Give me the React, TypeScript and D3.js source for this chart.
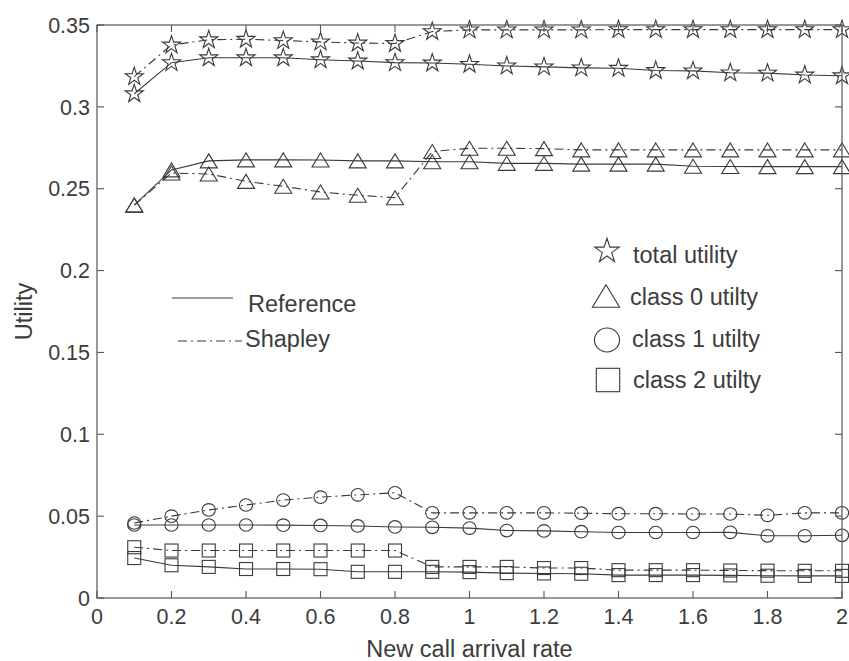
import React from "react";
import * as d3 from "d3";

const xValues = [0.1, 0.2, 0.3, 0.4, 0.5, 0.6, 0.7, 0.8, 0.9, 1.0, 1.1, 1.2, 1.3, 1.4, 1.5, 1.6, 1.7, 1.8, 1.9, 2.0];

const totalRef = [0.308, 0.327, 0.330, 0.330, 0.330, 0.3288, 0.328, 0.327, 0.3268, 0.326, 0.325, 0.3244, 0.3238, 0.3236, 0.3222, 0.322, 0.3208, 0.3206, 0.3195, 0.319];
const totalShap = [0.3185, 0.3378, 0.341, 0.3413, 0.3405, 0.3397, 0.339, 0.3387, 0.346, 0.347, 0.347, 0.347, 0.347, 0.3472, 0.3472, 0.3472, 0.3472, 0.3472, 0.3472, 0.3472];

const class0Ref = [0.240, 0.2615, 0.267, 0.2676, 0.2676, 0.2675, 0.267, 0.267, 0.2665, 0.2665, 0.2655, 0.2655, 0.265, 0.265, 0.265, 0.2637, 0.2636, 0.2635, 0.2635, 0.2635];
const class0Shap = [0.240, 0.2596, 0.259, 0.2545, 0.2515, 0.248, 0.246, 0.2445, 0.2727, 0.2747, 0.2747, 0.2745, 0.2737, 0.2737, 0.2737, 0.2737, 0.2737, 0.2737, 0.2737, 0.2737];

const class1Ref = [0.0446, 0.0446, 0.0446, 0.0446, 0.0445, 0.0443, 0.044, 0.0434, 0.0432, 0.0427, 0.0412, 0.041, 0.0405, 0.040, 0.040, 0.040, 0.0401, 0.038, 0.038, 0.0383];
const class1Shap = [0.0458, 0.050, 0.0538, 0.0568, 0.0598, 0.0616, 0.063, 0.0643, 0.052, 0.052, 0.052, 0.052, 0.0518, 0.0515, 0.0515, 0.0513, 0.0513, 0.0505, 0.052, 0.052];

const class2Ref = [0.0244, 0.020, 0.019, 0.0177, 0.0177, 0.0176, 0.016, 0.016, 0.016, 0.0158, 0.0152, 0.015, 0.0148, 0.014, 0.014, 0.014, 0.0138, 0.0136, 0.0135, 0.0135];
const class2Shap = [0.031, 0.029, 0.029, 0.029, 0.029, 0.029, 0.029, 0.029, 0.019, 0.019, 0.019, 0.0183, 0.0183, 0.017, 0.017, 0.017, 0.0168, 0.0167, 0.0166, 0.0166];

const xTicks = [0, 0.2, 0.4, 0.6, 0.8, 1, 1.2, 1.4, 1.6, 1.8, 2];
const xTickLabels = ["0", "0.2", "0.4", "0.6", "0.8", "1", "1.2", "1.4", "1.6", "1.8", "2"];
const yTicks = [0, 0.05, 0.1, 0.15, 0.2, 0.25, 0.3, 0.35];
const yTickLabels = ["0", "0.05", "0.1", "0.15", "0.2", "0.25", "0.3", "0.35"];

const seriesNames = ["total utility", "class 0 utilty", "class 1 utilty", "class 2 utilty"];
const methodNames = ["Reference", "Shapley"];

const W = 849;
const H = 661;
const left = 97, right = 842, top = 25, bottom = 598;
const ink = "#3a3a3a";
const font = "'Liberation Sans', Arial, sans-serif";
const dashDot = "9,4,2,4";

function starPath(cx: number, cy: number, R: number) {
  const r = R * 0.382;
  const pts: string[] = [];
  for (let i = 0; i < 10; i++) {
    const rad = i % 2 === 0 ? R : r;
    const a = -Math.PI / 2 + (i * Math.PI) / 5;
    pts.push(`${(cx + rad * Math.cos(a)).toFixed(2)},${(cy + rad * Math.sin(a)).toFixed(2)}`);
  }
  return "M" + pts.join("L") + "Z";
}

function Marker({ kind, cx, cy, s }: { kind: number; cx: number; cy: number; s: number }) {
  const common = { fill: "none", stroke: ink, strokeWidth: 1.1 };
  if (kind === 0) return <path d={starPath(cx, cy + s * 0.08, s * 9.5)} {...common} />;
  if (kind === 1) {
    const w = 8.5 * s, h = 7 * s;
    return <path d={`M${cx},${cy - h}L${cx + w},${cy + h}L${cx - w},${cy + h}Z`} {...common} />;
  }
  if (kind === 2) return <ellipse cx={cx} cy={cy} rx={6.6 * s} ry={6.3 * s} {...common} />;
  const a = 6.5 * s;
  return <rect x={cx - a} y={cy - a} width={2 * a} height={2 * a} {...common} />;
}

export default function App() {
  const x = d3.scaleLinear().domain([0, 2]).range([left, right]);
  const y = d3.scaleLinear().domain([0, 0.35]).range([bottom, top]);
  const line = d3
    .line<number>()
    .x((_, i) => x(xValues[i]))
    .y((d) => y(d));

  const groups = [
    [totalRef, totalShap],
    [class0Ref, class0Shap],
    [class1Ref, class1Shap],
    [class2Ref, class2Shap],
  ];

  const tickLen = 7;

  const legendRight = [
    { cx: 607, cy: 251, tx: 633, ty: 263, s: 1.35 },
    { cx: 606, cy: 296, tx: 630, ty: 305, s: 1.6 },
    { cx: 607, cy: 340, tx: 632, ty: 347, s: 1.9 },
    { cx: 608, cy: 380, tx: 633, ty: 388, s: 1.8 },
  ];

  return (
    <svg
      width={W}
      height={H}
      viewBox={`0 0 ${W} ${H}`}
      style={{ position: "absolute", left: 0, top: 0, background: "#fff" }}
    >
      <rect x={0} y={0} width={W} height={H} fill="#fff" />

      {/* series */}
      {groups.map((pair, gi) =>
        pair.map((vals, mi) => (
          <g key={`s-${gi}-${mi}`}>
            <path
              d={line(vals) || ""}
              fill="none"
              stroke={ink}
              strokeWidth={1.1}
              strokeDasharray={mi === 1 ? dashDot : undefined}
            />
            {vals.map((v, i) => (
              <Marker key={i} kind={gi} cx={x(xValues[i])} cy={y(v)} s={1} />
            ))}
          </g>
        ))
      )}

      {/* axes box */}
      <rect x={left} y={top} width={right - left} height={bottom - top} fill="none" stroke="#555" strokeWidth={1.2} />
      {xTicks.map((t, i) => (
        <g key={`xt-${i}`}>
          <line x1={x(t)} x2={x(t)} y1={bottom} y2={bottom - tickLen} stroke="#555" strokeWidth={1.1} />
          <line x1={x(t)} x2={x(t)} y1={top} y2={top + tickLen} stroke="#555" strokeWidth={1.1} />
          <text x={x(t)} y={624} textAnchor="middle" fontFamily={font} fontSize={21.5} fill="#3c3c3c">
            {xTickLabels[i]}
          </text>
        </g>
      ))}
      {yTicks.map((t, i) => (
        <g key={`yt-${i}`}>
          <line x1={left} x2={left + tickLen} y1={y(t)} y2={y(t)} stroke="#555" strokeWidth={1.1} />
          <line x1={right} x2={right - tickLen} y1={y(t)} y2={y(t)} stroke="#555" strokeWidth={1.1} />
          <text x={90} y={y(t)} dy="0.36em" textAnchor="end" fontFamily={font} fontSize={21.5} fill="#3c3c3c">
            {yTickLabels[i]}
          </text>
        </g>
      ))}

      {/* axis labels */}
      <text x={(left + right) / 2} y={657} textAnchor="middle" fontFamily={font} fontSize={23.5} fill="#3c3c3c">
        New call arrival rate
      </text>
      <text
        transform={`translate(32,${(top + bottom) / 2}) rotate(-90)`}
        textAnchor="middle"
        fontFamily={font}
        fontSize={23.5}
        fill="#3c3c3c"
      >
        Utility
      </text>

      {/* method legend */}
      <line x1={172} x2={233} y1={298} y2={298} stroke={ink} strokeWidth={1.1} />
      <text x={248} y={312} fontFamily={font} fontSize={23.5} fill="#3c3c3c">
        {methodNames[0]}
      </text>
      <line x1={178} x2={242} y1={341} y2={341} stroke={ink} strokeWidth={1.1} strokeDasharray={dashDot} />
      <text x={245} y={347} fontFamily={font} fontSize={23.5} fill="#3c3c3c">
        {methodNames[1]}
      </text>

      {/* marker legend */}
      {legendRight.map((l, i) => (
        <g key={`lg-${i}`}>
          <Marker kind={i} cx={l.cx} cy={l.cy} s={l.s} />
          <text x={l.tx} y={l.ty} fontFamily={font} fontSize={23.5} fill="#3c3c3c">
            {seriesNames[i]}
          </text>
        </g>
      ))}
    </svg>
  );
}
